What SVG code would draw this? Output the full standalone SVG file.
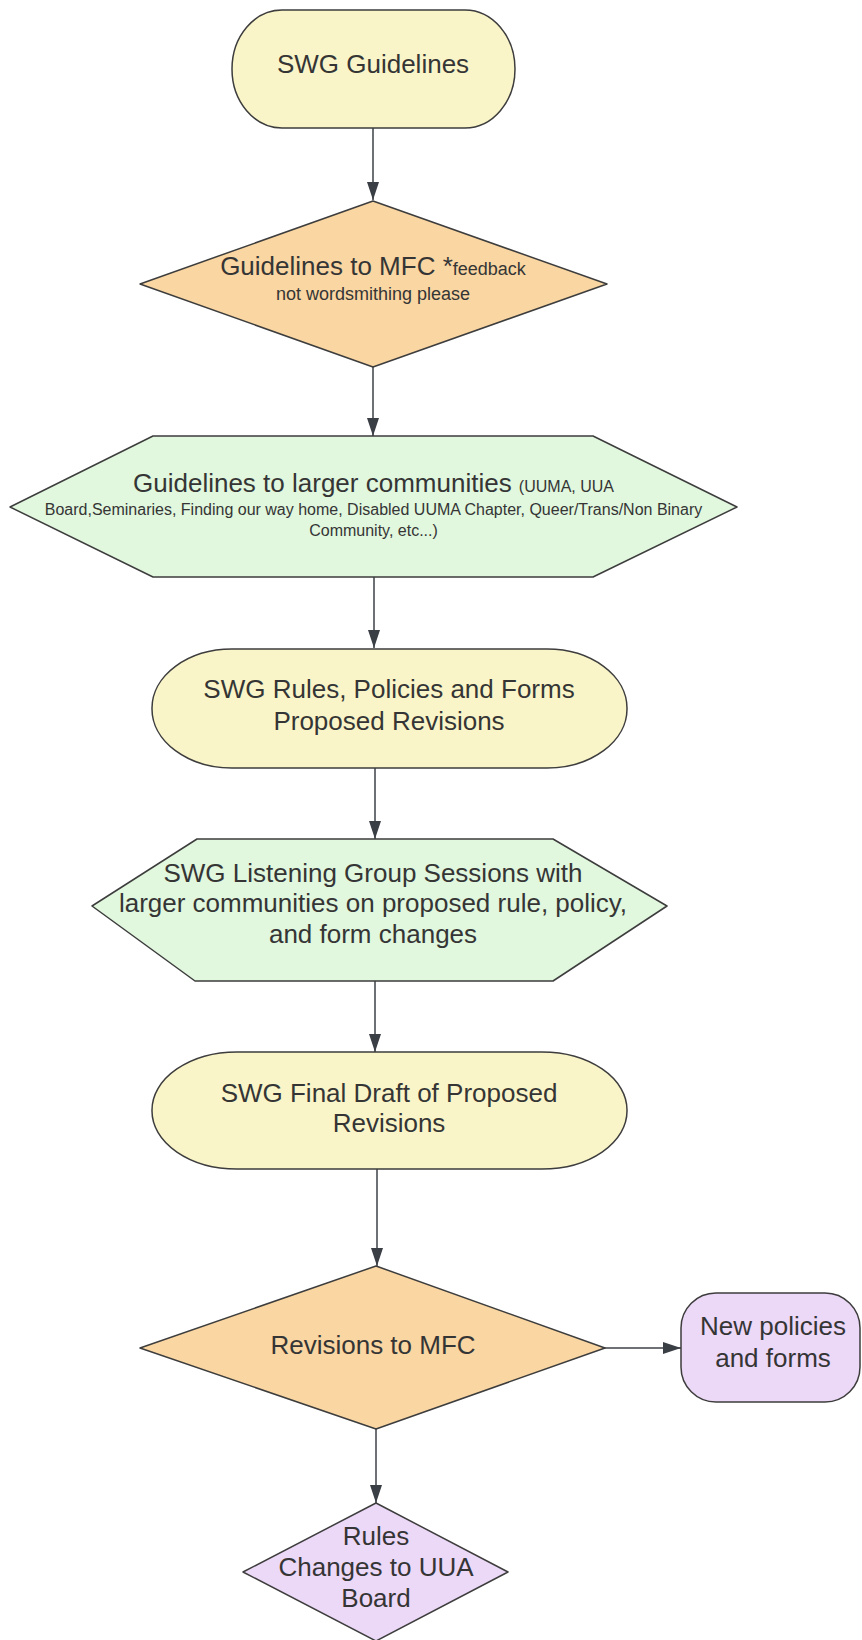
<svg xmlns="http://www.w3.org/2000/svg" width="862" height="1640" viewBox="0 0 862 1640">
<style>
.bg{fill:#ffffff}
.shape{stroke:#3d3d3d;stroke-width:1.5;stroke-linejoin:round}
.yellow{fill:#faf5c8}
.orange{fill:#f9d6a2}
.green{fill:#e1f7de}
.purple{fill:#ecd8f7}
.t{font-family:"Liberation Sans",Arial,sans-serif;fill:#353535;text-anchor:middle}
.big{font-size:26px}
.mid{font-size:18px}
.small{font-size:16px}
.conn{stroke:#3d4047;stroke-width:1.5;fill:none}
</style>
<defs>
<marker id="arrow" markerUnits="userSpaceOnUse" markerWidth="18" markerHeight="12" refX="18" refY="6" orient="auto">
<path d="M0,0 L18,6 L0,12 z" fill="#3a3e45"/>
</marker>
</defs>
<rect class="bg" x="0" y="0" width="862" height="1640"/>

<g id="connectors">
<line class="conn" x1="373" y1="128" x2="373" y2="200" marker-end="url(#arrow)"/>
<line class="conn" x1="373" y1="367" x2="373" y2="436" marker-end="url(#arrow)"/>
<line class="conn" x1="374" y1="577" x2="374" y2="648" marker-end="url(#arrow)"/>
<line class="conn" x1="375" y1="768" x2="375" y2="839" marker-end="url(#arrow)"/>
<line class="conn" x1="375" y1="981" x2="375" y2="1052" marker-end="url(#arrow)"/>
<line class="conn" x1="377" y1="1169" x2="377" y2="1266" marker-end="url(#arrow)"/>
<line class="conn" x1="376" y1="1429" x2="376" y2="1503" marker-end="url(#arrow)"/>
<line class="conn" x1="605" y1="1348" x2="681" y2="1348" marker-end="url(#arrow)"/>
</g>

<g id="node-swg-guidelines">
<rect class="shape yellow" x="232" y="10" width="283" height="118" rx="50" ry="59"/>
<text class="t big" x="373" y="73">SWG Guidelines</text>
</g>

<g id="node-guidelines-mfc">
<polygon class="shape orange" points="373,201 607,284 373,367 140,284"/>
<text class="t big" x="373" y="275">Guidelines to MFC *<tspan class="mid">feedback</tspan></text>
<text class="t mid" x="373" y="300">not wordsmithing please</text>
</g>

<g id="node-larger-communities">
<polygon class="shape green" points="153,436 593,436 737,507 593,577 153,577 10,507"/>
<text class="t big" x="373.5" y="492">Guidelines to larger communities <tspan class="small">(UUMA, UUA</tspan></text>
<text class="t small" x="373.5" y="515">Board,Seminaries, Finding our way home, Disabled UUMA Chapter, Queer/Trans/Non Binary</text>
<text class="t small" x="373.5" y="536">Community, etc...)</text>
</g>

<g id="node-rules-policies">
<rect class="shape yellow" x="152" y="649" width="475" height="119" rx="80" ry="59"/>
<text class="t big" x="389" y="698">SWG Rules, Policies and Forms</text>
<text class="t big" x="389" y="730">Proposed Revisions</text>
</g>

<g id="node-listening-sessions">
<polygon class="shape green" points="197,839 553,839 667,906 553,981 195,981 92,906"/>
<text class="t big" x="373" y="882">SWG Listening Group Sessions with</text>
<text class="t big" x="373" y="912">larger communities on proposed rule, policy,</text>
<text class="t big" x="373" y="943">and form changes</text>
</g>

<g id="node-final-draft">
<rect class="shape yellow" x="152" y="1052" width="475" height="117" rx="85" ry="58"/>
<text class="t big" x="389" y="1102">SWG Final Draft of Proposed</text>
<text class="t big" x="389" y="1132">Revisions</text>
</g>

<g id="node-revisions-mfc">
<polygon class="shape orange" points="376,1266 605,1348 376,1429 140,1348"/>
<text class="t big" x="373" y="1354">Revisions to MFC</text>
</g>

<g id="node-new-policies">
<rect class="shape purple" x="681" y="1293" width="179" height="109" rx="35" ry="35"/>
<text class="t big" x="773" y="1335">New policies</text>
<text class="t big" x="773" y="1367">and forms</text>
</g>

<g id="node-rules-changes">
<polygon class="shape purple" points="376,1503 508,1572 376,1641 243,1572"/>
<text class="t big" x="376" y="1545">Rules</text>
<text class="t big" x="376" y="1576">Changes to UUA</text>
<text class="t big" x="376" y="1607">Board</text>
</g>
</svg>
